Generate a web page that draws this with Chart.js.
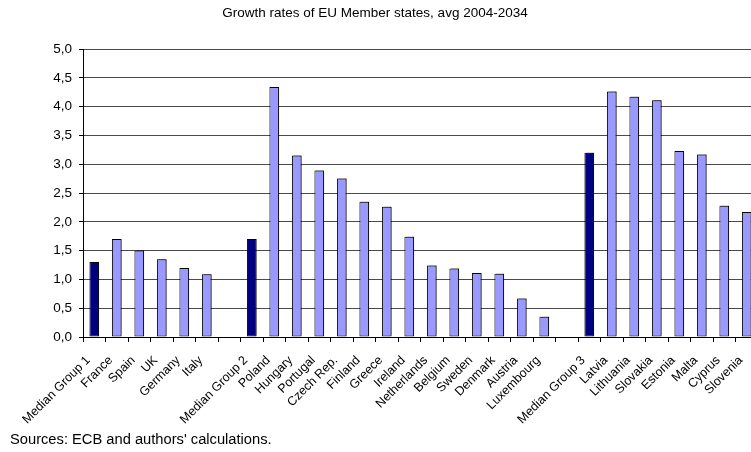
<!DOCTYPE html>
<html>
<head>
<meta charset="utf-8">
<script src="https://cdn.jsdelivr.net/npm/chart.js@4/dist/chart.umd.min.js"></script>
<style>
  html, body { margin: 0; padding: 0; background: #fff; overflow: hidden; }
  #wrap { position: relative; width: 760px; height: 452px; }
</style>
</head>
<body>
<div id="wrap"><canvas id="c"></canvas></div>
<script>
const titleText = "Growth rates of EU Member states, avg 2004-2034";
const sourceText = "Sources: ECB and authors' calculations.";

const categories = [
  "Median Group 1", "France", "Spain", "UK", "Germany", "Italy", "",
  "Median Group 2", "Poland", "Hungary", "Portugal", "Czech Rep.", "Finland", "Greece",
  "Ireland", "Netherlands", "Belgium", "Sweden", "Denmark", "Austria", "Luxembourg", "",
  "Median Group 3", "Latvia", "Lithuania", "Slovakia", "Estonia", "Malta", "Cyprus", "Slovenia"
];
const growthValues = [
  1.30, 1.70, 1.50, 1.35, 1.20, 1.09, null,
  1.70, 4.34, 3.15, 2.89, 2.75, 2.35, 2.26,
  1.74, 1.24, 1.19, 1.11, 1.10, 0.67, 0.35, null,
  3.20, 4.26, 4.17, 4.11, 3.23, 3.17, 2.28, 2.17
];
const yTicks = [0, 0.5, 1, 1.5, 2, 2.5, 3, 3.5, 4, 4.5, 5];

const medianColor = "#000080";
const countryColor = "#9999FF";
const barColors = categories.map(c => c.startsWith("Median") ? medianColor : countryColor);

const textPlugin = {
  id: "texts",
  afterDraw(chart) {
    const ctx = chart.ctx;
    ctx.save();
    ctx.fillStyle = "#000";
    ctx.textBaseline = "middle";
    ctx.font = "13.5px 'Liberation Sans', Arial, sans-serif";
    ctx.textAlign = "center";
    ctx.fillText(titleText, 375, 13);
    ctx.font = "14.7px 'Liberation Sans', Arial, sans-serif";
    ctx.textAlign = "left";
    ctx.fillText(sourceText, 10, 440);
    ctx.restore();
  }
};

const shadowPlugin = {
  id: "barShadow",
  beforeDatasetsDraw(chart) {
    const ctx = chart.ctx;
    ctx.save();
    ctx.shadowColor = "rgba(0,0,0,0.45)";
    ctx.shadowOffsetX = 1.5;
    ctx.shadowOffsetY = -1;
    ctx.shadowBlur = 0;
  },
  afterDatasetsDraw(chart) {
    chart.ctx.restore();
  }
};

new Chart(document.getElementById("c"), {
  type: "bar",
  data: {
    labels: categories,
    datasets: [{
      data: growthValues,
      backgroundColor: barColors,
      borderColor: "#000",
      borderWidth: 1,
      borderSkipped: false,
      barPercentage: 0.43,
      categoryPercentage: 1.0
    }]
  },
  options: {
    responsive: true,
    maintainAspectRatio: false,
    animation: false,
    devicePixelRatio: 1,
    layout: { padding: { top: 49, right: 2, left: 0, bottom: 0 } },
    plugins: {
      legend: { display: false },
      title: { display: false },
      tooltip: { enabled: false }
    },
    scales: {
      x: {
        grid: {
          drawOnChartArea: false,
          drawTicks: true,
          tickLength: 5,
          tickColor: "#000",
          offset: true
        },
        border: { color: "#000", width: 1 },
        ticks: {
          autoSkip: false,
          maxRotation: 45,
          minRotation: 45,
          padding: 11,
          labelOffset: -6,
          color: "#000",
          font: { family: "'Liberation Sans', Arial, sans-serif", size: 12.5 }
        },
        afterFit(scale) {
          scale.height = 115;
          scale.paddingLeft = 0;
          scale.paddingRight = 0;
        }
      },
      y: {
        min: 0,
        max: 5,
        afterBuildTicks(scale) { scale.ticks = yTicks.map(v => ({ value: v })); },
        grid: {
          color: "#4a4a4a",
          lineWidth: 1,
          drawTicks: true,
          tickLength: 4,
          tickColor: "#000"
        },
        border: { color: "#000", width: 1 },
        ticks: {
          padding: 7,
          color: "#000",
          font: { family: "'Liberation Sans', Arial, sans-serif", size: 13.5 },
          callback: v => v.toFixed(1).replace(".", ",")
        },
        afterFit(scale) { scale.width = 83; }
      }
    }
  },
  plugins: [shadowPlugin, textPlugin]
});
</script>
</body>
</html>
